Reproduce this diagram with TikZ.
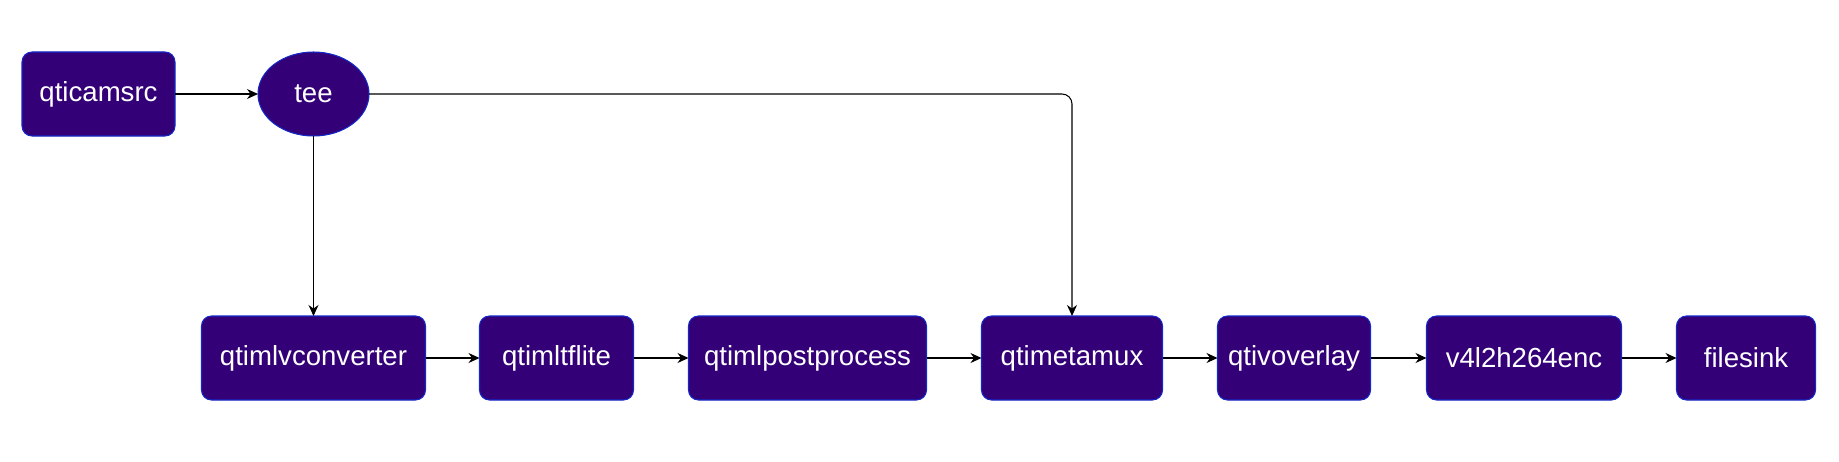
\documentclass[tikz,border=0pt]{standalone}
\usepackage{fontspec}
\setmainfont{Liberation Sans}
\usepackage{tikz}
\usetikzlibrary{shapes.geometric, arrows.meta, positioning}
\definecolor{plumfill}{RGB}{51,0,119}
\definecolor{plumedge}{RGB}{20,40,200}

\begin{document}
\begin{tikzpicture}[
  node distance=1.1cm,
  elem/.style={rectangle, rounded corners=0.2cm, draw=plumedge, line width=0.6pt, fill=plumfill,
               text=white, text centered, minimum height=1.68cm, inner sep=0pt, outer sep=0pt,
               font=\fontsize{15.7}{18}\selectfont},
  split/.style={ellipse, draw=plumedge, line width=0.6pt, fill=plumfill, text=white,
                minimum width=2.22cm, minimum height=1.68cm, inner sep=0pt, outer sep=0pt,
                font=\fontsize{15.7}{18}\selectfont},
  arrow/.style={-{Stealth[length=0.22cm, width=0.2cm]}, line width=0.6pt, color=black}
]
\useasboundingbox (0,0) rectangle (36.78,-9.24);

% --- Source and split ---
\node[elem, minimum width=3.06cm] (camsrc) at (1.97,-1.88) {qticamsrc};
\node[split, right=1.66cm of camsrc] (tee) {tee};

% --- Main chain ---
\node[elem, minimum width=4.48cm, below=3.6cm of tee] (lvconv) {qtimlvconverter};
\node[elem, minimum width=3.08cm, right=1.08cm of lvconv] (ltflite) {qtimltflite};
\node[elem, minimum width=4.76cm, right=of ltflite] (postproc) {qtimlpostprocess};
\node[elem, minimum width=3.62cm, right=of postproc] (metamux) {qtimetamux};
\node[elem, minimum width=3.06cm, right=of metamux] (overlay) {qtivoverlay};
\node[elem, minimum width=3.9cm, right=1.12cm of overlay] (h264enc) {v4l2h264enc};
\node[elem, minimum width=2.78cm, right=of h264enc] (sink) {filesink};

% --- Arrows ---
\draw[arrow] (camsrc) -- (tee);
\draw[arrow] (tee) -- (lvconv);
\draw[arrow, rounded corners=0.2cm] (tee.east) -| (metamux.north);

\draw[arrow] (lvconv) -- (ltflite);
\draw[arrow] (ltflite) -- (postproc);
\draw[arrow] (postproc) -- (metamux);
\draw[arrow] (metamux) -- (overlay);
\draw[arrow] (overlay) -- (h264enc);
\draw[arrow] (h264enc) -- (sink);

\end{tikzpicture}
\end{document}
